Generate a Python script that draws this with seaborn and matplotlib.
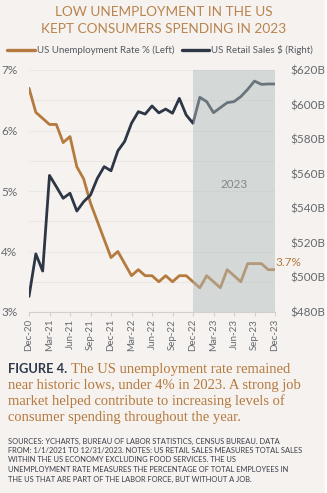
import matplotlib
matplotlib.use("Agg")
import matplotlib.pyplot as plt
import seaborn as sns
import pandas as pd
import numpy as np
from matplotlib.ticker import MultipleLocator

# ---------------- data ----------------
months = ["Dec-20",
          "Jan-21", "Feb-21", "Mar-21", "Apr-21", "May-21", "Jun-21", "Jul-21", "Aug-21", "Sep-21", "Oct-21", "Nov-21", "Dec-21",
          "Jan-22", "Feb-22", "Mar-22", "Apr-22", "May-22", "Jun-22", "Jul-22", "Aug-22", "Sep-22", "Oct-22", "Nov-22", "Dec-22",
          "Jan-23", "Feb-23", "Mar-23", "Apr-23", "May-23", "Jun-23", "Jul-23", "Aug-23", "Sep-23", "Oct-23", "Nov-23", "Dec-23"]
unemployment = [6.7,
                6.3, 6.2, 6.1, 6.1, 5.8, 5.9, 5.4, 5.2, 4.8, 4.5, 4.2, 3.9,
                4.0, 3.8, 3.6, 3.7, 3.6, 3.6, 3.5, 3.6, 3.5, 3.6, 3.6, 3.5,
                3.4, 3.6, 3.5, 3.4, 3.7, 3.6, 3.5, 3.8, 3.8, 3.8, 3.7, 3.7]
retail_sales = [489.0,
                513.6, 503.7, 559.0, 552.5, 545.8, 548.7, 538.4, 543.8, 547.7, 557.3, 564.1, 561.7,
                573.2, 578.7, 589.2, 595.9, 594.5, 599.2, 595.2, 597.4, 595.0, 603.6, 594.0, 589.2,
                604.2, 601.7, 595.3, 598.2, 601.1, 601.7, 604.6, 608.8, 613.6, 611.7, 611.9, 611.9]
tick_labels = ["Dec-20", "Mar-21", "Jun-21", "Sep-21", "Dec-21", "Mar-22", "Jun-22",
               "Sep-22", "Dec-22", "Mar-23", "Jun-23", "Sep-23", "Dec-23"]
left_ticks = [3, 4, 5, 6, 7]
right_ticks = [480, 500, 520, 540, 560, 580, 600, 620]
highlight_start, highlight_end = "Dec-22", "Dec-23"

# ---------------- style ----------------
BG = "#f6f2ef"
ORANGE = "#b57a3e"
NAVY = "#2c3645"
TITLE_C = "#b8844f"
GREY = "#666a6e"

sns.set_theme(style="white")
plt.rcParams["font.family"] = ["Lato", "DejaVu Sans"]

df = pd.DataFrame({"idx": np.arange(len(months)), "month": months,
                   "unemp": unemployment, "retail": retail_sales})

fig = plt.figure(figsize=(3.27, 4.93), dpi=100, facecolor=BG)
W, H = 327, 493
ax = fig.add_axes([29 / W, 1 - 312 / H, (275 - 29) / W, (312 - 70) / H])
ax.set_facecolor(BG)
ax2 = ax.twinx()

sns.lineplot(data=df, x="idx", y="unemp", ax=ax, color=ORANGE, lw=2.0, legend=False)
sns.lineplot(data=df, x="idx", y="retail", ax=ax2, color=NAVY, lw=2.0, legend=False)

ax.set_xlim(0, len(months) - 1)
ax.set_ylim(3, 7)
ax2.set_ylim(480, 620)

for a in (ax, ax2):
    for s in a.spines.values():
        s.set_visible(False)
    a.set_xlabel("")
    a.set_ylabel("")
ax.spines["bottom"].set_visible(True)
ax.spines["bottom"].set_color("#d2d0cd")
ax.spines["bottom"].set_linewidth(0.8)

tick_pos = [months.index(t) for t in tick_labels]
ax.set_xticks(tick_pos)
ax.set_xticklabels(tick_labels, rotation=90, fontsize=7, color=GREY)
ax.tick_params(axis="x", length=3, width=0.8, color="#d2d0cd", pad=2, bottom=True)

ax.set_yticks(left_ticks)
ax.set_yticklabels([f"{t}%" for t in left_ticks], fontsize=8.5, color=GREY)
ax.yaxis.set_minor_locator(MultipleLocator(0.5))
ax.tick_params(axis="y", which="both", length=0, pad=8.5)
ax.grid(axis="y", which="both", color="#ebe7e3", lw=0.8)
ax.set_axisbelow(True)

ax2.set_yticks(right_ticks)
ax2.set_yticklabels([f"${t}B" for t in right_ticks], fontsize=8.5, color=GREY)
ax2.tick_params(axis="y", length=0, pad=11)
ax2.grid(False)

# highlighted 2023 region (overlay that mutes the lines)
ax2.axvspan(months.index(highlight_start), months.index(highlight_end),
            color="#afbcbd", alpha=0.47, lw=0, zorder=10)
ax2.text(30, 480 + (5.1 - 3) / 4 * 140, "2023", ha="center", va="center",
         fontsize=8.5, color="#81878a", zorder=11)

ax.annotate(f"{unemployment[-1]}%", (len(months) - 1, unemployment[-1]),
            xytext=(0.5, 5), textcoords="offset points", ha="left", va="center",
            fontsize=8.5, color=ORANGE, annotation_clip=False)

# legend
h1 = ax.get_lines()[0]
h2 = ax2.get_lines()[0]
leg = fig.legend([h1, h2], ["US Unemployment Rate % (Left)", "US Retail Sales $ (Right)"],
                 loc="center", bbox_to_anchor=(0.49, 1 - 50 / H), ncol=2, frameon=False,
                 fontsize=7, handlelength=2.8, handletextpad=0.2, columnspacing=0.8,
                 labelcolor="#555a60")
for l in leg.get_lines():
    l.set_linewidth(2.4)

# title
for y, t in zip([12, 29], ["LOW UNEMPLOYMENT IN THE US", "KEPT CONSUMERS SPENDING IN 2023"]):
    fig.text(0.5, 1 - y / H, t, ha="center", va="center",
             fontsize=9.8, color=TITLE_C)

# caption
serif = ["Liberation Serif", "DejaVu Serif"]
cap_y = [369, 385, 401, 417]
fig.text(8 / W, 1 - cap_y[0] / H, "FIGURE 4.", ha="left", va="center", fontsize=9.3,
         fontweight="bold", color="#2e3a4b")
fig.text(71 / W, 1 - cap_y[0] / H, "The US unemployment rate remained", ha="left", va="center",
         fontsize=10.5, color=ORANGE, family=serif)
cap_lines = ["near historic lows, under 4% in 2023. A strong job",
             "market helped contribute to increasing levels of",
             "consumer spending throughout the year."]
for y, t in zip(cap_y[1:], cap_lines):
    fig.text(8 / W, 1 - y / H, t, ha="left", va="center", fontsize=10.5, color=ORANGE, family=serif)

src_lines = ["SOURCES: YCHARTS, BUREAU OF LABOR STATISTICS, CENSUS BUREAU. DATA",
             "FROM: 1/1/2021 TO 12/31/2023. NOTES: US RETAIL SALES MEASURES TOTAL SALES",
             "WITHIN THE US ECONOMY EXCLUDING FOOD SERVICES. THE US",
             "UNEMPLOYMENT RATE MEASURES THE PERCENTAGE OF TOTAL EMPLOYEES IN",
             "THE US THAT ARE PART OF THE LABOR FORCE, BUT WITHOUT A JOB."]
src_y = [441, 450.5, 460, 469.5, 479]
for y, t in zip(src_y, src_lines):
    fig.text(8 / W, 1 - y / H, t, ha="left", va="center", fontsize=5.4, color="#3a3f4a")

# white strip at right edge
fig.patches.append(plt.Rectangle((1 - 2.5 / W, 0), 2.5 / W, 1, transform=fig.transFigure,
                                 color="white", zorder=0))

fig.savefig("out.png", dpi=100, facecolor=BG)
